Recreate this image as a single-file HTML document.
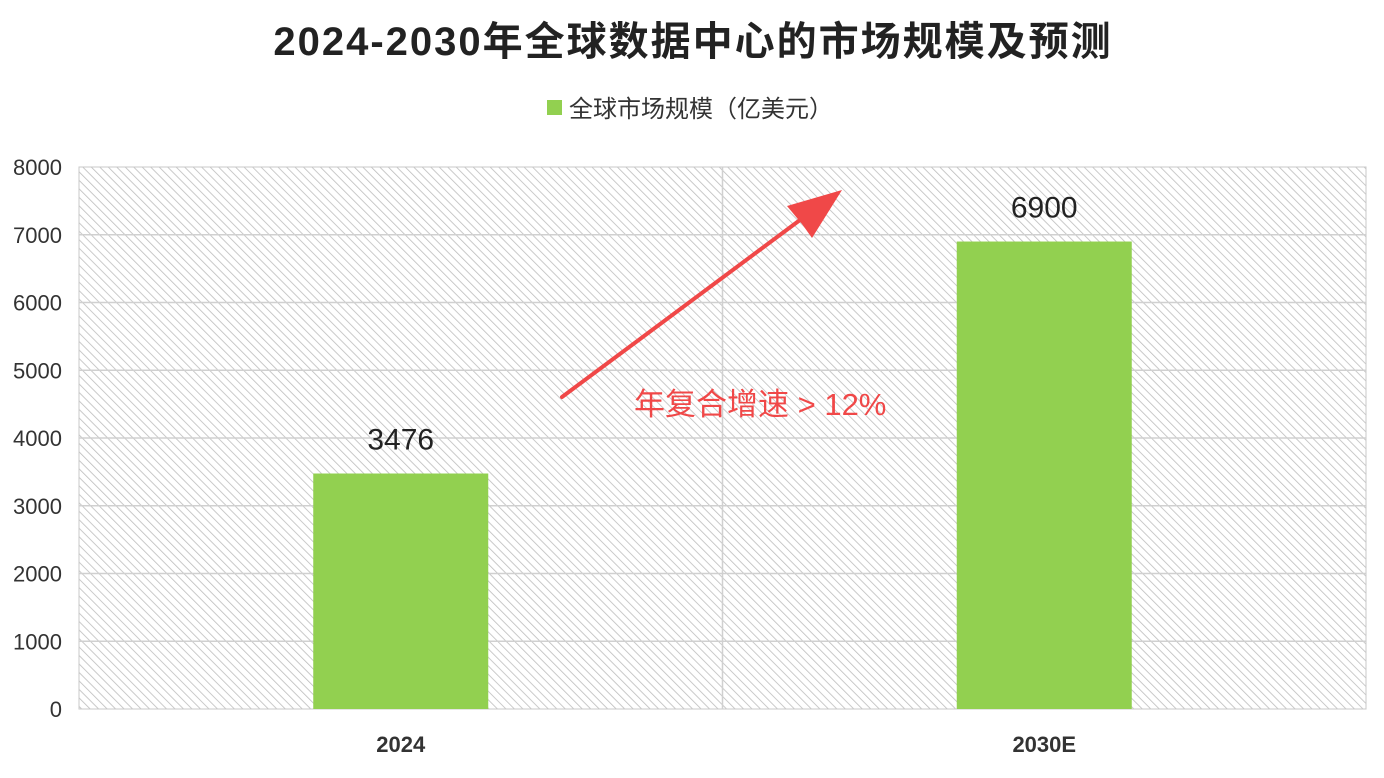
<!DOCTYPE html>
<html><head><meta charset="utf-8">
<style>
html,body{margin:0;padding:0;background:#fff;}
svg{display:block;font-family:"Liberation Sans","Noto Sans CJK SC",sans-serif;}
</style></head>
<body>
<svg id="chart" width="1384" height="778" viewBox="0 0 1384 778">
<defs>
<pattern id="hatch" patternUnits="userSpaceOnUse" width="6" height="6" patternTransform="rotate(-45)">
<rect width="6" height="6" fill="#ffffff"/>
<line x1="0" y1="0" x2="0" y2="6" stroke="#bdbdbd" stroke-width="1.6"/>
</pattern>
</defs>
<rect x="0" y="0" width="1384" height="778" fill="#fff"/>
<text x="693" y="55" text-anchor="middle" font-size="40" font-weight="bold" letter-spacing="2" fill="#222">2024-2030年全球数据中心的市场规模及预测</text>
<g>
<rect x="547" y="100" width="15" height="15" fill="#92d050"/>
<text x="569" y="117" font-size="24" fill="#333">全球市场规模（亿美元）</text>
</g>
<rect x="79" y="167" width="1287" height="542" fill="url(#hatch)" stroke="#c8c8c8" stroke-width="1"/>
<g id="grid"></g>
<g id="yticks"></g>
<g id="bars"></g>
<g id="xticks"></g>
<g>
<line x1="562" y1="397" x2="800" y2="220" stroke="#f04848" stroke-width="4" stroke-linecap="round"/>
<polygon points="842,190 812,238 802,224 787,206" fill="#f04848"/>
</g>
<text x="634" y="415" font-size="31" fill="#f04848">年复合增速 &gt; 12%</text>
</svg>
<script>
const categories = ["2024", "2030E"];
const values = [3476, 6900];
const valueLabels = ["3476", "6900"];
const yTicks = [0, 1000, 2000, 3000, 4000, 5000, 6000, 7000, 8000];

const NS = "http://www.w3.org/2000/svg";
const L = 79, R = 1366, T = 167, B = 709, yMax = 8000;
const y = v => B - (v / yMax) * (B - T);
const catW = (R - L) / categories.length;
const x = i => L + catW * (i + 0.5);
const barW = 175;
function mk(tag, attrs, parent, text) {
  const e = document.createElementNS(NS, tag);
  for (const k in attrs) e.setAttribute(k, attrs[k]);
  if (text !== undefined) e.textContent = text;
  document.getElementById(parent).appendChild(e);
  return e;
}
yTicks.forEach(t => {
  if (t > 0 && t < yMax) {
    const g = mk("line", {x1: L, x2: R, y1: y(t), y2: y(t), stroke: "#d0d0d0", "stroke-width": 1.5}, "grid");
    
    
  }
  const lab = mk("text", {x: 62, y: y(t) + 8, "text-anchor": "end", "font-size": 22, fill: "#333"}, "yticks", String(t));
  
  
});
for (let i = 1; i < categories.length; i++) {
  const v = mk("line", {x1: L + catW * i, x2: L + catW * i, y1: T, y2: B, stroke: "#d0d0d0", "stroke-width": 1.5}, "grid");
  
  
}
categories.forEach((c, i) => {
  const b = mk("rect", {x: x(i) - barW / 2, y: y(values[i]), width: barW, height: B - y(values[i]), fill: "#92d050"}, "bars");
  
  
  const vl = mk("text", {x: x(i), y: y(values[i]) - 24, "text-anchor": "middle", "font-size": 30, fill: "#222"}, "bars", valueLabels[i]);
  
  
  const xl = mk("text", {x: x(i), y: 752, "text-anchor": "middle", "font-size": 22, "font-weight": "bold", fill: "#333"}, "xticks", c);
  
  
});
</script>
</body></html>
